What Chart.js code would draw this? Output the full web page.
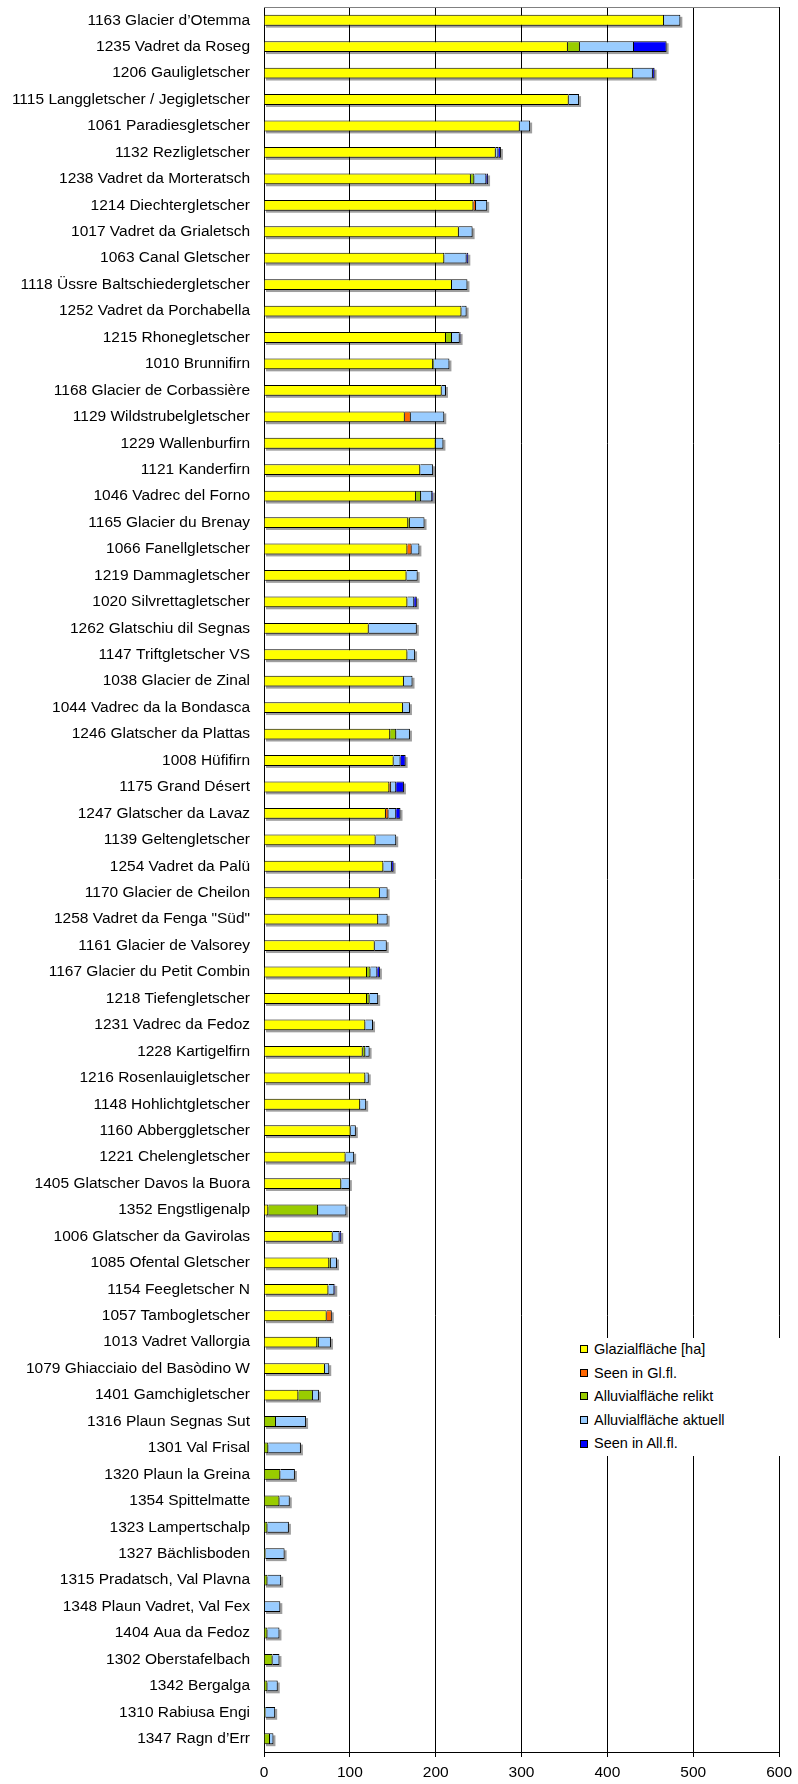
<!DOCTYPE html>
<html lang="de">
<head>
  <meta charset="UTF-8" />
  <title>Gletschervorfelder – Flächen</title>

  <script src="https://cdn.jsdelivr.net/npm/chart.js"></script>

  <style>
    body {
      margin: 0;
      background: #fff;
    }

    .wrap {
      position: relative;
      width: 798px;
      height: 1784px;
    }

    #legend {
      position: absolute;
      left: 575px;
      top: 1338px;
      width: 206px;
      background: #fff;
      font-family: "Liberation Sans", Arial, sans-serif;
      font-size: 14.5px;
      color: #000;
    }

    #legend .item {
      height: 23.6px;
      line-height: 23.6px;
      white-space: nowrap;
    }

    #legend .box {
      display: inline-block;
      width: 6px;
      height: 6px;
      border: 1px solid #000;
      margin: 0 6px 0 5px;
      vertical-align: middle;
      position: relative;
      top: -1px;
    }
  </style>
</head>
<body>

  <div class="wrap">
    <canvas id="chart" width="798" height="1784"></canvas>
    <div id="legend"></div>
  </div>

  <script>
    const categories = [
      "1163 Glacier d’Otemma", "1235 Vadret da Roseg", "1206 Gauligletscher",
      "1115 Langgletscher / Jegigletscher", "1061 Paradiesgletscher", "1132 Rezligletscher",
      "1238 Vadret da Morteratsch", "1214 Diechtergletscher", "1017 Vadret da Grialetsch",
      "1063 Canal Gletscher", "1118 Üssre Baltschiedergletscher", "1252 Vadret da Porchabella",
      "1215 Rhonegletscher", "1010 Brunnifirn", "1168 Glacier de Corbassière",
      "1129 Wildstrubelgletscher", "1229 Wallenburfirn", "1121 Kanderfirn",
      "1046 Vadrec del Forno", "1165 Glacier du Brenay", "1066 Fanellgletscher",
      "1219 Dammagletscher", "1020 Silvrettagletscher", "1262 Glatschiu dil Segnas",
      "1147 Triftgletscher VS", "1038 Glacier de Zinal", "1044 Vadrec da la Bondasca",
      "1246 Glatscher da Plattas", "1008 Hüfifirn", "1175 Grand Désert",
      "1247 Glatscher da Lavaz", "1139 Geltengletscher", "1254 Vadret da Palü",
      "1170 Glacier de Cheilon", "1258 Vadret da Fenga \"Süd\"", "1161 Glacier de Valsorey",
      "1167 Glacier du Petit Combin", "1218 Tiefengletscher", "1231 Vadrec da Fedoz",
      "1228 Kartigelfirn", "1216 Rosenlauigletscher", "1148 Hohlichtgletscher",
      "1160 Abberggletscher", "1221 Chelengletscher", "1405 Glatscher Davos la Buora",
      "1352 Engstligenalp", "1006 Glatscher da Gavirolas", "1085 Ofental Gletscher",
      "1154 Feegletscher N", "1057 Tambogletscher", "1013 Vadret Vallorgia",
      "1079 Ghiacciaio del Basòdino W", "1401 Gamchigletscher", "1316 Plaun Segnas Sut",
      "1301 Val Frisal", "1320 Plaun la Greina", "1354 Spittelmatte",
      "1323 Lampertschalp", "1327 Bächlisboden", "1315 Pradatsch, Val Plavna",
      "1348 Plaun Vadret, Val Fex", "1404 Aua da Fedoz", "1302 Oberstafelbach",
      "1342 Bergalga", "1310 Rabiusa Engi", "1347 Ragn d’Err"
    ];

    // Flächen in ha, gelesen aus der Vorlage
    const glazial = [
      466, 354, 430, 355, 298, 270, 241, 244, 227, 210,
      219, 230, 212, 197, 207, 164, 200, 182, 177, 168,
      167, 166, 167, 122, 167, 163, 162, 147, 151, 146,
      142, 130, 139, 135, 133, 129, 120, 120, 118, 115,
      118, 112, 101, 95, 90, 5, 80, 76, 75, 73,
      62, 71, 40, 0, 0, 0, 0, 0, 0, 0,
      0, 0, 0, 0, 0, 0
    ];
    const seenGl = [
      0, 0, 0, 0, 0, 0, 0, 3, 0, 0,
      0, 0, 0, 0, 0, 7, 0, 0, 0, 0,
      5, 0, 0, 0, 0, 0, 0, 0, 0, 2,
      3, 0, 0, 0, 0, 0, 0, 0, 0, 0,
      0, 0, 0, 0, 0, 0, 0, 0, 0, 6,
      0, 0, 0, 0, 0, 0, 0, 0, 0, 0,
      0, 0, 0, 0, 0, 0
    ];
    const alluvRelikt = [
      0, 14, 0, 0, 0, 0, 4, 0, 0, 0,
      0, 0, 7, 1, 0, 0, 0, 0, 6, 2,
      0, 0, 0, 0, 0, 0, 0, 7, 0, 0,
      0, 0, 0, 0, 0, 0, 4, 3, 0, 3,
      0, 0, 0, 0, 0, 58, 0, 2, 0, 0,
      2, 0, 17, 14, 5, 19, 18, 4, 2, 4,
      1, 4, 10, 4, 2, 7
    ];
    const alluvAktuell = [
      19, 63, 23, 12, 12, 3, 14, 13, 16, 26,
      18, 6, 9, 18, 5, 39, 9, 15, 13, 17,
      9, 13, 8, 56, 9, 10, 8, 16, 8, 6,
      9, 24, 10, 9, 11, 14, 8, 10, 9, 5,
      4, 7, 6, 10, 10, 33, 8, 7, 7, 0,
      14, 5, 7, 35, 38, 17, 12, 25, 22, 16,
      18, 14, 8, 12, 11, 4
    ];
    const seenAll = [
      0, 38, 2, 0, 0, 3, 2, 0, 0, 2,
      0, 0, 1, 0, 0, 0, 0, 0, 1, 0,
      0, 0, 3, 0, 0, 0, 0, 0, 6, 9,
      5, 0, 2, 0, 0, 0, 3, 0, 0, 0,
      0, 0, 0, 0, 0, 0, 2, 0, 1, 0,
      0, 0, 0, 0, 0, 0, 0, 0, 0, 0,
      0, 0, 0, 0, 0, 0
    ];

    const seriesNames = ["Glazialfläche [ha]", "Seen in Gl.fl.", "Alluvialfläche relikt", "Alluvialfläche aktuell", "Seen in All.fl."];
    const seriesColors = ["#FFFF00", "#FF6600", "#99CC00", "#99CCFF", "#0000FF"];
    const xTicks = [0, 100, 200, 300, 400, 500, 600];

    const allSeries = [glazial, seenGl, alluvRelikt, alluvAktuell, seenAll];

    Chart.defaults.font.family = '"Liberation Sans", Arial, sans-serif';
    Chart.defaults.font.size = 15.5;
    Chart.defaults.color = "#000";

    // grauer Schatten hinter jedem Balken (wie Excel)
    const barShadow = {
      id: "barShadow",
      beforeDatasetsDraw(chart) {
        const ctx = chart.ctx;
        const x = chart.scales.x;
        const y = chart.scales.y;
        const meta = chart.getDatasetMeta(0);
        ctx.save();
        ctx.fillStyle = "rgba(0,0,0,0.38)";
        categories.forEach((c, i) => {
          let total = 0;
          allSeries.forEach(s => total += s[i]);
          const h = meta.data[i].height;
          const yc = y.getPixelForValue(i);
          const x0 = x.getPixelForValue(0);
          const x1 = x.getPixelForValue(total);
          ctx.fillRect(x0 + 2, yc - h / 2 + 2, x1 - x0, h);
        });
        ctx.restore();
      }
    };

    // oberer Rahmen der Zeichnungsfläche
    const plotFrame = {
      id: "plotFrame",
      beforeDatasetsDraw(chart) {
        const { ctx, chartArea } = chart;
        ctx.save();
        ctx.strokeStyle = "#808080";
        ctx.lineWidth = 1;
        ctx.beginPath();
        ctx.moveTo(chartArea.left, chartArea.top + 0.5);
        ctx.lineTo(chartArea.right, chartArea.top + 0.5);
        ctx.stroke();
        ctx.restore();
      }
    };

    const chart = new Chart(document.getElementById("chart").getContext("2d"), {
      type: "bar",
      data: {
        labels: categories,
        datasets: allSeries.map((s, i) => ({
          label: seriesNames[i],
          data: s,
          backgroundColor: seriesColors[i],
          borderColor: "#000",
          borderWidth: 1
        }))
      },
      options: {
        indexAxis: "y",
        responsive: false,
        animation: false,
        layout: { padding: { top: 7, right: 15, left: 0, bottom: 0 } },
        datasets: {
          bar: { barPercentage: 0.41, categoryPercentage: 1 }
        },
        scales: {
          x: {
            stacked: true,
            min: 0,
            max: 600,
            afterBuildTicks: s => { s.ticks = xTicks.map(v => ({ value: v })); },
            ticks: { padding: 6 },
            grid: { color: "#000", tickColor: "#000", tickLength: 5 },
            border: { color: "#000" },
            afterFit: s => { s.height = 32; }
          },
          y: {
            stacked: true,
            grid: { display: false, drawTicks: false },
            border: { color: "#000" },
            ticks: { padding: 14, autoSkip: false },
            afterFit: s => {
              s.width = 264;
              s.paddingTop = 0;
              s.paddingBottom = 0;
            }
          }
        },
        plugins: {
          legend: { display: false },
          tooltip: { enabled: false }
        }
      },
      plugins: [barShadow, plotFrame]
    });

    // Legende als HTML im Diagramm
    const legendEl = document.getElementById("legend");
    chart.data.datasets.forEach(ds => {
      const row = document.createElement("div");
      row.className = "item";
      row.innerHTML = '<span class="box" style="background:' + ds.backgroundColor + '"></span>' + ds.label;
      legendEl.appendChild(row);
    });
  </script>

</body>
</html>
